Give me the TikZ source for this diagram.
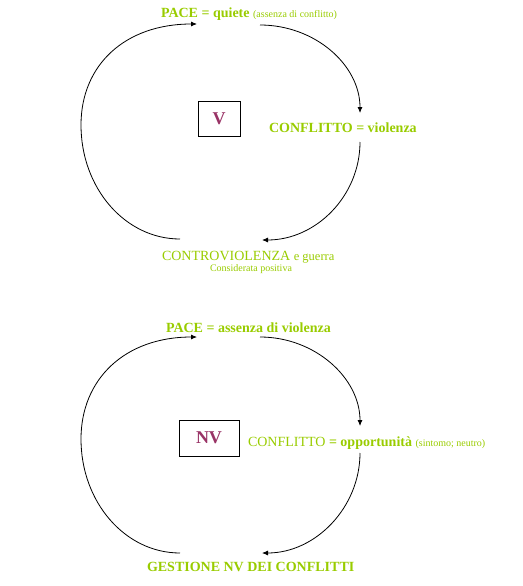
\documentclass[tikz,border=0pt]{standalone}
\usepackage{fontspec}
\setmainfont{Liberation Serif}
\usetikzlibrary{arrows.meta}
\definecolor{pgreen}{HTML}{99CC00}
\definecolor{pmaroon}{HTML}{993366}
\newcommand{\bigtxt}{\fontsize{14}{16}\selectfont}
\newcommand{\midtxt}{\fontsize{12.5}{14}\selectfont}
\newcommand{\smalltxt}{\fontsize{10}{12}\selectfont}
\tikzset{
  lbl/.style={anchor=base west, inner sep=0pt, outer sep=0pt, text=pgreen, font=\bigtxt\bfseries},
  cyc/.style={line width=0.8pt, draw=black, -{Latex[length=6pt,width=5pt]}},
  tagbox/.style={draw=black, line width=1pt, inner sep=0pt, text=pmaroon, font=\fontsize{18}{20}\selectfont\bfseries}
}
\begin{document}
\begin{tikzpicture}[x=1pt,y=-1pt]
\useasboundingbox (0,0) rectangle (522,586);

% ---------- top cycle (V) ----------
\node[lbl] (paceA) at (161,18) {PACE = quiete {\smalltxt\mdseries (assenza di conflitto)}};
\node[lbl] (conflA) at (269,132) {CONFLITTO = violenza};
\node[lbl, font=\bigtxt\mdseries] (controA) at (162,260) {CONTROVIOLENZA {\midtxt e guerra}};
\node[lbl, font=\smalltxt\mdseries] (considA) at (210,271) {Considerata positiva};
\node[tagbox, minimum width=42pt, minimum height=35pt] (boxV) at (219,118.5) {V};

\coordinate (tAls) at (180,239);
\coordinate (tAle) at (197,24);
\coordinate (tArs) at (260,25);
\coordinate (tAre) at (360,113);
\coordinate (tAbs) at (360,142);
\coordinate (tAbe) at (262,240);

\draw[cyc] (tAls) .. controls (125,239) and (81,188) .. (81,125)
                  .. controls (81,65) and (125,24) .. (tAle);
\draw[cyc] (tArs) .. controls (315,25) and (360,65) .. (tAre);
\draw[cyc] (tAbs) .. controls (360,196) and (316,240) .. (tAbe);

% ---------- bottom cycle (NV) ----------
\node[lbl] (paceB) at (166,332) {PACE = assenza di violenza};
\node[lbl] (conflB) at (248,446) {{\mdseries CONFLITTO} = opportunità {\smalltxt\mdseries (sintomo; neutro)}};
\node[lbl] (gestB) at (147,571) {GESTIONE NV DEI CONFLITTI};
\node[tagbox, minimum width=60pt, minimum height=36pt] (boxNV) at (209,438) {NV};

\coordinate (bBls) at (180,553);
\coordinate (bBle) at (197,337);
\coordinate (bBrs) at (260,337);
\coordinate (bBre) at (360,426);
\coordinate (bBbs) at (360,453);
\coordinate (bBbe) at (262,553);

\draw[cyc] (bBls) .. controls (125,553) and (81,502) .. (81,439)
                  .. controls (81,379) and (125,337) .. (bBle);
\draw[cyc] (bBrs) .. controls (315,337) and (360,378) .. (bBre);
\draw[cyc] (bBbs) .. controls (360,507) and (316,553) .. (bBbe);
\end{tikzpicture}
\end{document}
